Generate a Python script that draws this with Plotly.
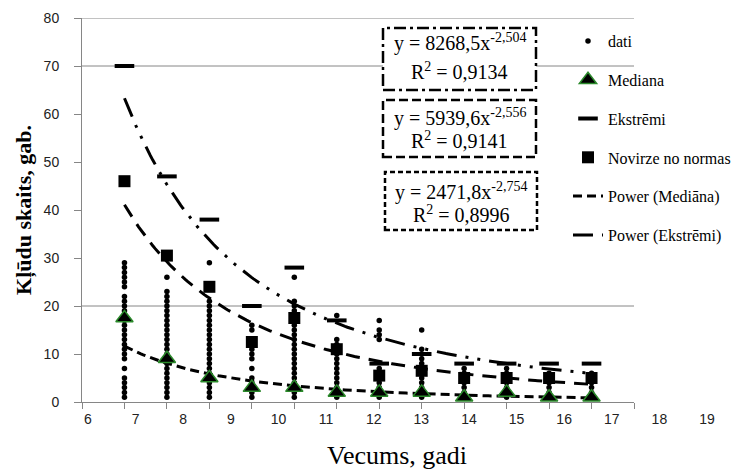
import numpy as np
import plotly.graph_objects as go

# --- data -------------------------------------------------------------
ages = [7, 8, 9, 10, 11, 12, 13, 14, 15, 16, 17, 18]

# individual observations per age (same order as `ages`)
dati_values = [
    [1, 2, 3, 4, 5, 7, 9, 10, 11, 12, 13, 14, 15, 16, 17, 18, 19, 20, 21, 22, 24, 25, 26, 27, 28, 29],
    list(range(1, 24)) + [26],
    list(range(1, 22)) + [29],
    [1, 2, 3, 4, 5, 7, 9, 10, 11, 12, 13, 15, 16],
    list(range(1, 22)) + [26],
    list(range(1, 14)) + [18],
    [1, 2, 3, 4, 5, 6, 7, 13, 14, 15, 17],
    list(range(1, 12)) + [15],
    [1, 2, 3, 4, 5, 6, 7],
    [1, 2, 3, 4, 5, 6, 7],
    [1, 2, 3, 4, 5, 6],
    [1, 2, 3, 4, 5, 6],
]
mediana = [17.5, 9, 5, 3, 3, 2, 2, 2, 1, 2, 1, 1]
ekstremi = [70, 47, 38, 20, 28, 17, 8, 10, 8, 8, 8, 8]
novirze = [46, 30.5, 24, 12.5, 17.5, 11, 5.5, 6.5, 5, 5, 5, 5]

# power trend lines y = a * x^b with their R^2
fit_ekstremi = {"a": 8268.5, "b": -2.504, "r2": 0.9134}
fit_novirze = {"a": 5939.6, "b": -2.556, "r2": 0.9141}
fit_mediana = {"a": 2471.8, "b": -2.754, "r2": 0.8996}

x_ticks = list(range(6, 20))
y_ticks = list(range(0, 81, 10))
grid_levels = [20, 70, 80]

# --- page geometry (pixels) --------------------------------------------
W, H = 746, 471
ML, MR, MT, MB = 82, 38, 18, 69
PW, PH = W - ML - MR, H - MT - MB


def fx(xp):
    return (xp - ML) / PW


def fy(yp):
    return (H - MB - yp) / PH


def lv(v):
    return f"{v:.4f}".rstrip("0").rstrip(".").replace(".", ",")


SERIF = "Liberation Serif"
SANS = "Liberation Sans"
AXIS_GRAY = "#868686"

fig = go.Figure()

# scatter of observations
dx, dy = [], []
for a, vals in zip(ages, dati_values):
    dx += [a] * len(vals)
    dy += vals
fig.add_trace(go.Scatter(
    x=dx, y=dy, mode="markers", name="dati", legendgroup="g1", legendrank=1,
    marker=dict(symbol="circle", size=5.5, color="black"),
))

# trend curves
xs = np.linspace(ages[0], ages[-1], 200)


def curve(fit):
    return fit["a"] * xs ** fit["b"]


fig.add_trace(go.Scatter(
    x=xs, y=curve(fit_novirze), mode="lines", showlegend=False,
    line=dict(color="black", width=3, dash="14px,9px"), hoverinfo="skip",
))

fig.add_trace(go.Scatter(
    x=ages, y=novirze, mode="markers", name="Novirze no normas",
    legendgroup="g4", legendrank=4,
    marker=dict(symbol="square", size=12, color="black"),
))

fig.add_trace(go.Scatter(
    x=ages, y=ekstremi, mode="markers", name="Ekstrēmi", legendgroup="g3",
    legendrank=3,
    marker=dict(symbol="line-ew", size=14, color="black",
                line=dict(color="black", width=4)),
))

fig.add_trace(go.Scatter(
    x=xs, y=curve(fit_mediana), mode="lines", name="Power (Mediāna)",
    legendgroup="g5", legendrank=5,
    line=dict(color="black", width=3, dash="9px,5px"), hoverinfo="skip",
))

fig.add_trace(go.Scatter(
    x=xs, y=curve(fit_ekstremi), mode="lines", name="Power (Ekstrēmi)",
    legendgroup="g6", legendrank=6,
    line=dict(color="black", width=3, dash="20px,9px,3px,9px,3px,9px"),
    hoverinfo="skip",
))

fig.add_trace(go.Scatter(
    x=ages, y=mediana, mode="markers", name="Mediana", legendgroup="g2",
    legendrank=2,
    marker=dict(symbol="triangle-up", size=15, color="black",
                line=dict(color="#2b8a2b", width=1.5)),
))

# carrier for the stretched tick-label axis
fig.add_trace(go.Scatter(x=[x_ticks[0], x_ticks[-1]], y=[None, None],
                         xaxis="x2", yaxis="y", showlegend=False,
                         hoverinfo="skip"))

# --- gridlines --------------------------------------------------------
shapes = []
for g in grid_levels:
    shapes.append(dict(type="line", xref="x", yref="y", x0=x_ticks[0],
                       x1=x_ticks[-1], y0=g, y1=g, layer="below",
                       line=dict(color=AXIS_GRAY, width=1)))

# --- equation boxes ---------------------------------------------------
boxes = [
    (fit_ekstremi, (383, 536, 28, 90), "12px,4px,3px,4px", (43, 71)),
    (fit_novirze, (383, 536, 100, 157), "9px,4px", (117, 140)),
    (fit_mediana, (385, 537, 172, 230), "5px,3px", (191, 214)),
]
annotations = []
for fit, (x0, x1, y0, y1), dash, (l1, l2) in boxes:
    shapes.append(dict(type="rect", xref="paper", yref="paper",
                       x0=fx(x0), x1=fx(x1), y0=fy(y1), y1=fy(y0),
                       fillcolor="white",
                       line=dict(color="black", width=2.5, dash=dash)))
    cx = fx((x0 + x1) / 2)
    annotations.append(dict(
        xref="paper", yref="paper", x=cx, y=fy(l1), showarrow=False,
        xanchor="center", yanchor="middle",
        text=f"y = {lv(fit['a'])}x<sup>{lv(fit['b'])}</sup>",
        font=dict(family=SERIF, size=20, color="black")))
    annotations.append(dict(
        xref="paper", yref="paper", x=cx, y=fy(l2), showarrow=False,
        xanchor="center", yanchor="middle",
        text=f"R<sup>2</sup> = {lv(fit['r2'])}",
        font=dict(family=SERIF, size=20, color="black")))

# x-axis title
annotations.append(dict(
    xref="paper", yref="paper", x=fx(397), y=fy(455), showarrow=False,
    xanchor="center", yanchor="middle", text="Vecums, gadi",
    font=dict(family=SERIF, size=26, color="black")))

fig.update_layout(
    width=W, height=H,
    margin=dict(l=ML, r=MR, t=MT, b=MB, pad=0, autoexpand=False),
    paper_bgcolor="white", plot_bgcolor="rgba(0,0,0,0)",
    showlegend=True,
    legend=dict(
        x=fx(568), y=fy(24), xanchor="left", yanchor="top",
        traceorder="grouped", tracegroupgap=15,
        font=dict(family=SERIF, size=16, color="black"),
        bgcolor="rgba(0,0,0,0)", borderwidth=0,
    ),
    xaxis=dict(
        domain=[0, fx(634)], range=[x_ticks[0], x_ticks[-1]],
        tickmode="array", tickvals=x_ticks, showticklabels=False,
        ticks="outside", ticklen=6, tickcolor=AXIS_GRAY,
        showline=True, linecolor=AXIS_GRAY, linewidth=1,
        showgrid=False, zeroline=False, automargin=False,
    ),
    xaxis2=dict(
        domain=[fx(88), fx(707)], range=[x_ticks[0], x_ticks[-1]],
        anchor="y", tickmode="array", tickvals=x_ticks,
        ticks="", showline=False, showgrid=False, zeroline=False,
        tickfont=dict(family=SANS, size=14, color="#222"),
        ticklabelstandoff=7, automargin=False,
    ),
    yaxis=dict(
        domain=[0, 1], range=[0, 80], tickmode="array", tickvals=y_ticks,
        ticks="outside", ticklen=7, tickcolor=AXIS_GRAY,
        showline=True, linecolor=AXIS_GRAY, linewidth=1,
        showgrid=False, zeroline=False, automargin=False,
        tickfont=dict(family=SANS, size=14, color="#222"),
        ticklabelstandoff=12,
        title=dict(text="<b>Kļūdu skaits, gab.</b>", standoff=5,
                   font=dict(family=SERIF, size=22, color="black")),
    ),
    shapes=shapes,
    annotations=annotations,
)

fig.write_html("out.html")
